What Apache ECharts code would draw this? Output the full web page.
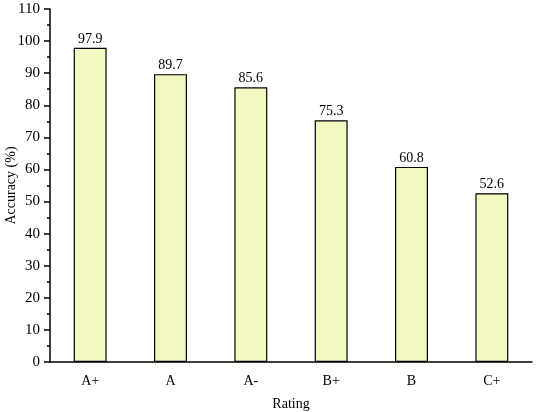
<!DOCTYPE html>
<html>
<head>
<meta charset="utf-8">
<script src="https://cdn.jsdelivr.net/npm/echarts@6/dist/echarts.min.js"></script>
<style>
  html, body { margin: 0; padding: 0; background: #fff; }
  #chart { width: 536px; height: 412px; }
</style>
</head>
<body>
<div id="chart"></div>
<script>
const ratings = ['A+', 'A', 'A-', 'B+', 'B', 'C+'];
const accuracy = [97.9, 89.7, 85.6, 75.3, 60.8, 52.6];

const font = 'Liberation Serif, Times New Roman, serif';
const chart = echarts.init(document.getElementById('chart'));

chart.setOption({
    animation: false,
    grid: { left: 50, right: 4, top: 9, bottom: 50, outerBoundsMode: 'none' },
    xAxis: [
        {
            type: 'category',
            data: ratings,
            name: 'Rating',
            nameLocation: 'middle',
            nameGap: 35,
            nameMoveOverlap: false,
            nameTextStyle: { fontFamily: font, fontSize: 14, color: '#000' },
            axisLine: { lineStyle: { color: '#000', width: 1.5 } },
            axisTick: { alignWithLabel: true, length: 6, lineStyle: { color: '#000', width: 1.5 } },
            axisLabel: { fontFamily: font, fontSize: 14, color: '#000', margin: 12 }
        },
        {
            // shorter ticks on the category boundaries
            type: 'category',
            data: ratings,
            position: 'bottom',
            axisLine: { show: false },
            axisTick: { length: 4, lineStyle: { color: '#000', width: 1.5 } },
            axisLabel: { show: false }
        }
    ],
    yAxis: {
        type: 'value',
        min: 0,
        max: 110,
        interval: 10,
        name: 'Accuracy (%)',
        nameLocation: 'middle',
        nameGap: 32,
        nameMoveOverlap: false,
        nameTextStyle: { fontFamily: font, fontSize: 14, color: '#000' },
        axisLine: { show: true, lineStyle: { color: '#000', width: 1.5 } },
        axisTick: { show: true, length: 6, lineStyle: { color: '#000', width: 1.5 } },
        minorTick: { show: true, splitNumber: 2, length: 3, lineStyle: { color: '#000', width: 1.5 } },
        splitLine: { show: false },
        axisLabel: { fontFamily: font, fontSize: 15, color: '#000', margin: 10 }
    },
    series: [{
        type: 'bar',
        data: accuracy,
        barWidth: '41%',
        itemStyle: { color: '#F3F7C1', borderColor: '#000', borderWidth: 1.2 },
        label: {
            show: true,
            position: 'top',
            distance: 2,
            fontFamily: font,
            fontSize: 14,
            color: '#000'
        }
    }]
});
</script>
</body>
</html>
